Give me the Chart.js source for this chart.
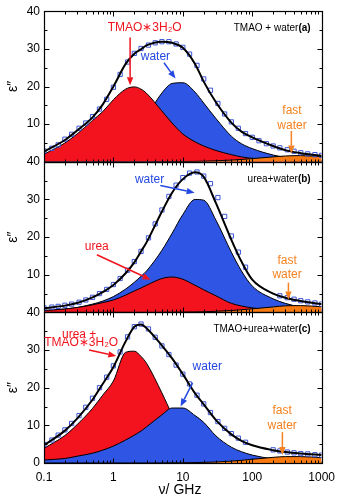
<!DOCTYPE html>
<html lang="en">
<head>
<meta charset="UTF-8">
<title>Dielectric loss spectra</title>
<script src="https://cdn.jsdelivr.net/npm/chart.js@4/dist/chart.umd.min.js"></script>
<style>
  body { margin: 0; background: #fff; }
</style>
</head>
<body>
<canvas id="wykres" width="342" height="500"></canvas>
<script>
// frequency grid of the fitted curves (GHz)
const nu = [0.1, 0.2, 0.3, 0.5, 0.7, 1, 1.5, 2, 2.5, 3, 5, 7, 10, 15, 20, 30, 50, 70, 100, 200, 300, 500, 1000];

// (a) TMAO + water
const totalA = [2.7, 5.8, 8.3, 11.8, 15.2, 20.0, 26.0, 28.7, 29.9, 30.9, 31.9, 31.6, 30.3, 26.0, 21.3, 15.8, 10.4, 8.0, 6.5, 4.2, 3.1, 2.3, 1.6];
const tmaoA  = [2.0, 5.0, 7.4, 11.0, 13.3, 16.5, 19.3, 19.9, 19.3, 18.2, 13.5, 10.3, 7.4, 5.3, 4.2, 3.0, 1.9, 1.3, 0.9, 0.4, 0.3, 0.2, 0.1];
const waterA = [0.3, 0.7, 1.1, 2.0, 2.8, 4.0, 6.0, 8.0, 10.0, 12.0, 18.3, 20.8, 21.0, 18.5, 15.6, 11.5, 6.8, 4.8, 3.5, 1.8, 1.2, 0.8, 0.4];
const fastA  = [0, 0, 0, 0, 0, 0, 0, 0, 0, 0, 0.02, 0.04, 0.07, 0.12, 0.17, 0.27, 0.45, 0.62, 0.85, 1.3, 1.55, 1.65, 1.35];

// (b) urea + water
const totalB = [1.1, 1.8, 2.5, 4.0, 5.4, 7.3, 10.4, 13.3, 16.2, 18.6, 26.8, 31.8, 35.4, 37.2, 36.0, 29.0, 19.3, 13.5, 8.7, 5.0, 3.9, 3.0, 2.2];
const ureaB  = [0.5, 0.9, 1.3, 2.0, 2.6, 3.3, 4.6, 5.7, 6.5, 7.2, 9.0, 9.4, 8.8, 7.2, 6.0, 4.4, 2.4, 1.7, 1.2, 0.6, 0.4, 0.3, 0.1];
const waterB = [0.5, 0.9, 1.3, 2.2, 3.0, 4.2, 6.2, 8.0, 9.6, 11.0, 16.5, 21.0, 26.0, 30.0, 29.8, 24.5, 16.0, 11.0, 7.0, 3.6, 2.4, 1.4, 0.7];
const fastB  = [0, 0, 0, 0, 0, 0, 0, 0, 0, 0, 0.02, 0.04, 0.07, 0.12, 0.17, 0.3, 0.5, 0.7, 0.95, 1.45, 1.75, 1.8, 1.5];

// (c) TMAO + urea + water
const totalC = [4.7, 8.6, 11.8, 16.8, 21.0, 25.5, 32.3, 36.2, 36.8, 35.8, 31.2, 27.8, 23.6, 18.5, 15.6, 11.4, 7.6, 5.9, 4.7, 3.4, 2.9, 2.5, 2.1];
const mixC   = [3.9, 7.3, 10.2, 14.5, 18.0, 21.8, 29.4, 29.7, 28.3, 26.5, 18.6, 13.0, 9.0, 5.8, 4.3, 2.8, 1.6, 1.1, 0.8, 0.4, 0.3, 0.2, 0.1];
const waterC = [0.8, 1.2, 1.8, 2.6, 3.4, 4.5, 6.1, 7.4, 8.5, 9.6, 12.8, 14.6, 14.6, 12.6, 10.8, 7.2, 4.2, 3.0, 2.1, 1.1, 0.8, 0.5, 0.3];
const fastC  = [0, 0, 0, 0, 0, 0, 0, 0, 0, 0, 0.02, 0.04, 0.07, 0.12, 0.17, 0.27, 0.5, 0.7, 1.0, 1.5, 1.7, 1.7, 1.4];

// measured points (GHz), null = no data
const nuPts = [0.1, 0.13, 0.16, 0.2, 0.25, 0.32, 0.4, 0.5, 0.63, 0.8, 1, 1.25, 1.6, 2, 2.5, 3.2, 4, 5, 6.3, 8, 10, 12.5, 16, 20, 25, 32, 40, 50, 63, 80, 100, 125, 160, 200, 250, 320, 400, 500, 630, 800, 1000];
const ptsA = [2.9, 3.6, 4.5, 6.0, 7.3, 8.9, 10.3, 12.0, 14.0, 16.6, 19.8, 23.2, 26.5, 28.8, 30.1, 31.0, 31.6, 31.9, 31.9, 31.3, 30.4, 28.6, 25.6, 22.0, 19.0, 15.5, 12.7, 10.6, 8.9, 7.5, 6.5, 5.6, 4.8, 4.2, 3.7, 3.2, 2.8, 2.4, 2.1, 1.9, 1.7];
const ptsB = [1.2, 1.4, 1.6, 1.9, 2.2, 2.7, 3.3, 4.0, 5.0, 6.1, 7.4, 9.0, 11.2, 13.5, 16.2, 19.8, 23.5, 27.2, 30.8, 33.8, 35.8, 37.0, 37.3, 36.2, 34.2, 30.5, 25.5, 20.3, 16.0, 12.0, null, null, null, null, 4.4, 3.9, 3.5, 3.1, 2.8, 2.5, 2.2];
const ptsC = [4.9, 6.1, 7.4, 8.8, 10.5, 12.6, 14.8, 17.2, 20.0, 22.8, 25.8, 29.5, 33.5, 36.2, 36.9, 35.6, 33.4, 31.1, 28.8, 26.0, 23.6, 21.0, 18.0, 15.7, 13.4, 11.0, 9.2, 7.8, 6.6, 5.5, null, null, null, 3.5, 3.2, 2.9, 2.7, 2.5, 2.4, 2.2, 2.1];

const xTicks = [0.1, 1, 10, 100, 1000];
const yTicks = [0, 10, 20, 30, 40];

const RED = '#f2131f', BLUE = '#2f55e4', ORANGE = '#f7790f';
const TXT_RED = '#f0141e', TXT_BLUE = '#2448e0', TXT_ORANGE = '#f58220';
const FONT = '"Liberation Sans", Arial, sans-serif';

const pary = (xs, ys) => xs.map((x, i) => ({ x: x, y: ys[i] }));

function obszar(ys, kolor, os) {
    return { data: pary(nu, ys), yAxisID: os, backgroundColor: kolor, borderColor: '#000', borderWidth: 1,
             fill: 'origin', pointRadius: 0, cubicInterpolationMode: 'monotone' };
}
function linia(ys, os) {
    return { data: pary(nu, ys), yAxisID: os, borderColor: '#000', borderWidth: 2, fill: false,
             pointRadius: 0, cubicInterpolationMode: 'monotone' };
}
function punkty(ys, os) {
    return { data: pary(nuPts, ys), yAxisID: os, showLine: false, pointStyle: 'rect', pointRadius: 3,
             pointBorderWidth: 1, pointBorderColor: '#3d55d6', pointBackgroundColor: 'rgba(0,0,0,0)' };
}

// first dataset is drawn on top
const datasets = [
    linia(totalA, 'ya'), punkty(ptsA, 'ya'), obszar(fastA, ORANGE, 'ya'), obszar(tmaoA, RED, 'ya'), obszar(waterA, BLUE, 'ya'),
    linia(totalB, 'yb'), punkty(ptsB, 'yb'), obszar(fastB, ORANGE, 'yb'), obszar(ureaB, RED, 'yb'), obszar(waterB, BLUE, 'yb'),
    linia(totalC, 'yc'), punkty(ptsC, 'yc'), obszar(fastC, ORANGE, 'yc'), obszar(waterC, BLUE, 'yc'), obszar(mixC, RED, 'yc')
];

// labels and arrows, in data coordinates of each panel
const opisy = {
    ya: { label: ['TMAO + water', '(a)'],
          teksty: [['TMAO∗3H₂O', 2.82, 35.7, TXT_RED], ['water', 4.03, 27.9, TXT_BLUE],
                   ['fast', 374, 13.7, TXT_ORANGE], ['water', 374, 9.7, TXT_ORANGE]],
          strzalki: [[1.74, 33.0, 1.74, 20.3, TXT_RED], [5.35, 26.3, 7.84, 22.1, TXT_BLUE], [366, 8.2, 366, 2.2, TXT_ORANGE]] },
    yb: { label: ['urea+water', '(b)'],
          teksty: [['water', 3.32, 35.3, TXT_BLUE], ['urea', 0.576, 17.4, TXT_RED],
                   ['fast', 318, 13.7, TXT_ORANGE], ['water', 318, 10.0, TXT_ORANGE]],
          strzalki: [[4.74, 33.7, 14.8, 31.8, TXT_BLUE], [0.577, 15.3, 3.43, 8.7, TXT_RED], [332, 7.9, 332, 3.4, TXT_ORANGE]] },
    yc: { label: ['TMAO+urea+water', '(c)'],
          teksty: [['urea +', 0.321, 34.1, TXT_RED], ['TMAO∗3H₂O', 0.343, 31.9, TXT_RED], ['water', 22.5, 25.5, TXT_BLUE],
                   ['fast', 270, 13.8, TXT_ORANGE], ['water', 270, 9.9, TXT_ORANGE]],
          strzalki: [[0.445, 30.0, 1.10, 28.4, TXT_RED], [13.8, 21.3, 9.28, 15.0, TXT_BLUE], [272, 8.2, 272, 2.1, TXT_ORANGE]] }
};

function strzalka(ctx, x1, y1, x2, y2, kolor) {
    const a = Math.atan2(y2 - y1, x2 - x1), L = 8, W = 3.2;
    const bx = x2 - L * Math.cos(a), by = y2 - L * Math.sin(a);
    ctx.strokeStyle = kolor; ctx.fillStyle = kolor; ctx.lineWidth = 1.5;
    ctx.beginPath(); ctx.moveTo(x1, y1); ctx.lineTo(bx, by); ctx.stroke();
    ctx.beginPath(); ctx.moveTo(x2, y2);
    ctx.lineTo(bx + W * Math.sin(a), by - W * Math.cos(a));
    ctx.lineTo(bx - W * Math.sin(a), by + W * Math.cos(a));
    ctx.closePath(); ctx.fill();
}

const ramka = {
    id: 'ramka',
    afterDatasetsDraw(chart) {
        const ctx = chart.ctx, ca = chart.chartArea, xs = chart.scales.x;
        ctx.save();
        ['ya', 'yb', 'yc'].forEach(id => {
            const ys = chart.scales[id];
            const top = Math.round(ys.top) + 0.5, bot = Math.round(ys.bottom) + 0.5;
            const l = Math.round(ca.left) + 0.5, r = Math.round(ca.right) + 0.5;
            ctx.strokeStyle = '#000'; ctx.lineWidth = 1.2;
            ctx.strokeRect(l, top, r - l, bot - top);
            ctx.lineWidth = 1;
            ctx.beginPath();
            for (let v = 5; v < 40; v += 5) {
                const py = Math.round(ys.getPixelForValue(v)) + 0.5;
                const len = v % 10 === 0 ? 5 : 3;
                ctx.moveTo(l, py); ctx.lineTo(l + len, py);
                ctx.moveTo(r, py); ctx.lineTo(r - len, py);
            }
            for (let d = 0.1; d < 1000; d *= 10) {
                for (let k = 1; k < 10; k++) {
                    const v = d * k;
                    if (v <= 0.1 || v >= 1000) continue;
                    const px = Math.round(xs.getPixelForValue(v)) + 0.5;
                    const len = k === 1 ? 5 : 3;
                    ctx.moveTo(px, top); ctx.lineTo(px, top + len);
                    ctx.moveTo(px, bot); ctx.lineTo(px, bot - len);
                }
            }
            ctx.stroke();

            const o = opisy[id];
            ctx.textAlign = 'center'; ctx.textBaseline = 'middle';
            ctx.font = '12px ' + FONT;
            o.teksty.forEach(t => {
                ctx.fillStyle = t[3];
                ctx.fillText(t[0], xs.getPixelForValue(t[1]), ys.getPixelForValue(t[2]));
            });
            o.strzalki.forEach(s => {
                strzalka(ctx, xs.getPixelForValue(s[0]), ys.getPixelForValue(s[1]),
                         xs.getPixelForValue(s[2]), ys.getPixelForValue(s[3]), s[4]);
            });
            // panel label, letter in bold
            ctx.textAlign = 'right'; ctx.textBaseline = 'alphabetic'; ctx.fillStyle = '#000';
            ctx.font = 'bold 10px ' + FONT;
            const R = ca.right - 11, B = ys.top + 20;
            ctx.fillText(o.label[1], R, B);
            const w = ctx.measureText(o.label[1]).width;
            ctx.font = '10px ' + FONT;
            ctx.fillText(o.label[0], R - w, B);

            // y title
            ctx.save();
            ctx.translate(13, (ys.top + ys.bottom) / 2);
            ctx.rotate(-Math.PI / 2);
            ctx.textAlign = 'center'; ctx.textBaseline = 'middle';
            ctx.font = '14px ' + FONT;
            ctx.fillText('ε″', 0, 0);
            ctx.restore();
        });
        ctx.fillStyle = '#000';
        ctx.font = '14px ' + FONT;
        ctx.textAlign = 'center'; ctx.textBaseline = 'middle';
        ctx.fillText('ν/ GHz', 180, 490);
        ctx.restore();
    }
};

function osY(id) {
    return {
        type: 'linear', position: 'left', stack: 'panele', stackWeight: 1,
        min: 0, max: 40,
        afterBuildTicks: s => { s.ticks = yTicks.map(v => ({ value: v })); },
        afterFit: s => { s.width = 44; },
        grid: { display: false, drawTicks: false }, border: { display: false },
        ticks: { padding: 4, font: { size: 12, family: FONT }, color: '#000',
                 callback: v => (v === 0 && id !== 'yc') ? '' : String(v) }
    };
}

const ctx = document.getElementById('wykres').getContext('2d');
const wykres = new Chart(ctx, {
    type: 'line',
    data: { datasets: datasets },
    options: {
        responsive: false, animation: false, devicePixelRatio: 1,
        layout: { padding: { top: 7, right: 14, left: 0, bottom: 0 } },
        plugins: { legend: { display: false }, tooltip: { enabled: false },
                   filler: { drawTime: 'beforeDatasetDraw' } },
        scales: {
            x: {
                type: 'logarithmic', position: 'bottom', min: 0.1, max: 1000,
                afterBuildTicks: s => { s.ticks = xTicks.map(v => ({ value: v })); },
                afterFit: s => { s.height = 37; },
                grid: { display: false, drawTicks: false }, border: { display: false },
                ticks: { padding: 7, maxRotation: 0, autoSkip: false, font: { size: 12, family: FONT }, color: '#000',
                         callback: v => String(v) }
            },
            yc: osY('yc'),
            yb: osY('yb'),
            ya: osY('ya')
        }
    },
    plugins: [ramka]
});
</script>
</body>
</html>
